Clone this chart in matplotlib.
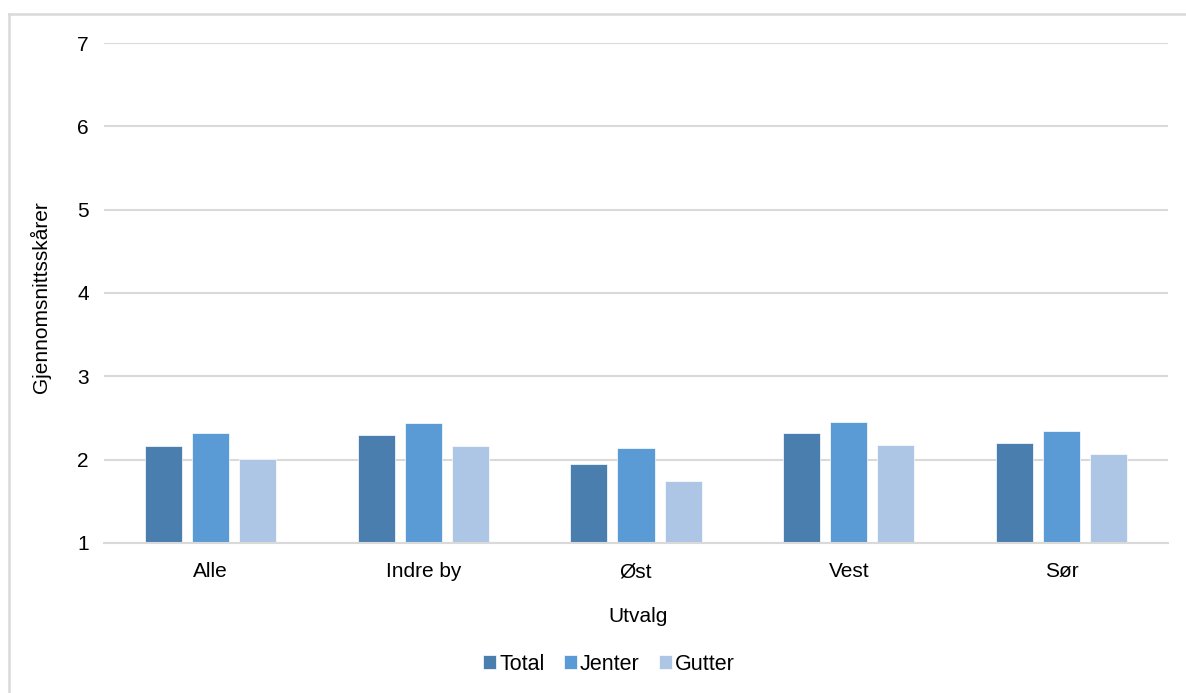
import matplotlib
matplotlib.use("Agg")
import matplotlib.pyplot as plt
from matplotlib.lines import Line2D
import numpy as np

plt.rcParams['font.family'] = ['Liberation Sans', 'DejaVu Sans']

categories = ["Alle", "Indre by", "Øst", "Vest", "Sør"]
total = [2.17, 2.30, 1.95, 2.32, 2.20]
jenter = [2.32, 2.44, 2.14, 2.45, 2.34]
gutter = [2.01, 2.16, 1.74, 2.18, 2.07]
series_names = ["Total", "Jenter", "Gutter"]
colors = ["#4A7EAF", "#5B9BD5", "#ADC6E5"]
yticks = [1, 2, 3, 4, 5, 6, 7]

W, H = 1186, 693
fig = plt.figure(figsize=(W / 100, H / 100), dpi=100)
ax = fig.add_axes([104 / W, 1 - 543 / H, (1168 - 104) / W, 500 / H])

# chart-area border: left and top edges
frame_kw = dict(transform=fig.transFigure, color="#D9D9D9", linewidth=1.8)
fig.lines.append(Line2D([8.5 / W, 8.5 / W], [0, 1 - 13.5 / H], **frame_kw))
fig.lines.append(Line2D([8.5 / W, 1], [1 - 13.5 / H, 1 - 13.5 / H], **frame_kw))

x = np.arange(len(categories))
width = 0.174
step = 0.221
for i, (vals, name, col) in enumerate(zip([total, jenter, gutter], series_names, colors)):
    ax.bar(x + (i - 1) * step, np.array(vals) - 1, width, bottom=1, color=col,
           label=name, edgecolor="white", linewidth=0.5, zorder=3)

ax.set_xlim(-0.5, len(categories) - 0.5)
ax.set_ylim(1, 7)
ax.set_yticks(yticks)
ax.set_xticks(x)
ax.set_xticklabels(categories)
ax.tick_params(axis="both", length=0, labelsize=15, colors="black")
ax.tick_params(axis="y", pad=11)
ax.tick_params(axis="x", pad=14)
ax.yaxis.grid(True, color="#D9D9D9", linewidth=1.5, zorder=0)
for s in ["top", "right", "left"]:
    ax.spines[s].set_visible(False)
ax.spines["bottom"].set_color("#D9D9D9")
ax.spines["bottom"].set_linewidth(1.5)
ax.spines["bottom"].set_zorder(4)

ax.set_xlabel("Utvalg", fontsize=15)
ax.set_ylabel("Gjennomsnittsskårer", fontsize=15)
ax.xaxis.set_label_coords((638 - 104) / (1168 - 104), -(617 - 543) / 500, transform=ax.transAxes)
ax.yaxis.set_label_coords(-(104 - 40) / (1168 - 104), (543 - 297) / 500, transform=ax.transAxes)
ax.xaxis.label.set_va("center")
ax.yaxis.label.set_va("center")

fig.legend(loc="center", bbox_to_anchor=(609 / W, 1 - 664 / H), ncol=3,
           frameon=False, fontsize=15.5, handlelength=0.6, handleheight=0.6,
           handletextpad=0.15, columnspacing=0.9)

fig.savefig("out.png", dpi=100)
